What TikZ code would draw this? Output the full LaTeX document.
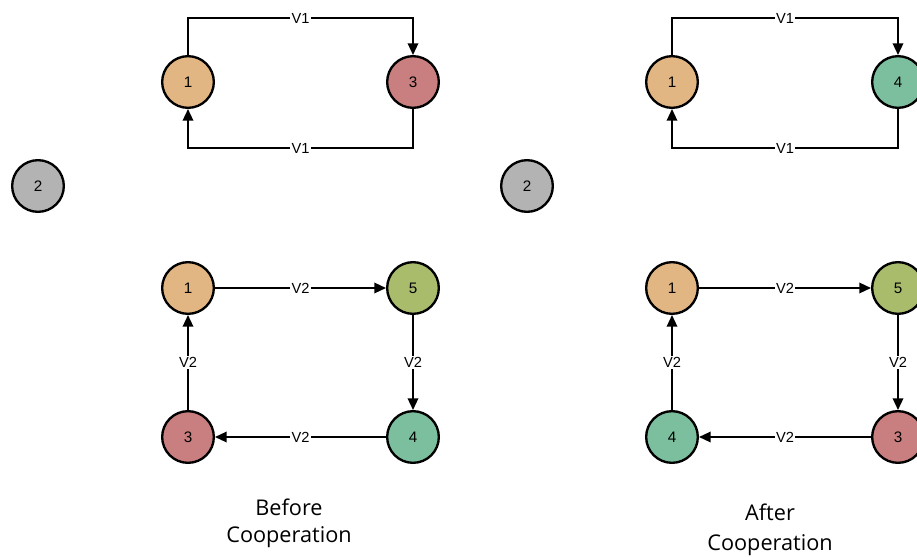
\documentclass[tikz,border=0pt]{standalone}
\usepackage{fontspec}
\setmainfont{Liberation Sans}
\newfontfamily\capfont{Open Sans}
\usetikzlibrary{positioning, arrows.meta}
\definecolor{tan}{HTML}{E2B683}
\definecolor{rose}{HTML}{C97F7F}
\definecolor{teal}{HTML}{7CBF9F}
\definecolor{olive}{HTML}{A9BC6C}
\definecolor{grey}{HTML}{B3B3B3}
\tikzset{
x=0.03cm, y=-0.03cm, % one unit is one pixel of the sketch
uav/.style={circle, draw=black, line width=2pt, minimum size=1.55cm, inner sep=0pt, font=\fontsize{13}{13}\selectfont}, % sets the properties for each vehicle
link/.style={-{Triangle[length=10pt,width=9pt]}, line width=1.5pt}, % directed edges
lbl/.style={fill=white, inner sep=1pt, font=\fontsize{12.5}{12.5}\selectfont}, % text on the edges
caption/.style={align=center, font=\capfont\fontsize{18.5}{23}\selectfont},
}
\begin{document}
\begin{tikzpicture}
    \useasboundingbox (0,0) rectangle (917,557);

    % before cooperation
    \node[uav, fill=tan] (b1) at (188,82) {1};
    \node[uav, fill=rose] (b3) at (413,82) {3};
    \node[uav, fill=grey] (b2) at (38,186) {2};
    \node[uav, fill=tan] (c1) at (188,288) {1};
    \node[uav, fill=olive] (c5) at (413,288) {5};
    \node[uav, fill=rose] (c3) at (188,437) {3};
    \node[uav, fill=teal] (c4) at (413,437) {4};
    \coordinate (b1t) at (188,18);
    \coordinate (b3t) at (413,18);
    \coordinate (b1b) at (188,148);
    \coordinate (b3b) at (413,148);

    \draw[link] (b1) -- (b1t) -- node[lbl]{V1} (b3t) -- (b3);
    \draw[link] (b3) -- (b3b) -- node[lbl]{V1} (b1b) -- (b1);
    \draw[link] (c1) -- node[lbl]{V2} (c5);
    \draw[link] (c5) -- node[lbl]{V2} (c4);
    \draw[link] (c4) -- node[lbl]{V2} (c3);
    \draw[link] (c3) -- node[lbl]{V2} (c1);

    \node[caption] (before) at (289,523) {Before\\Cooperation};

    % after cooperation
    \node[uav, fill=tan] (a1) at (672,82) {1};
    \node[uav, fill=teal] (a4) at (898,82) {4};
    \node[uav, fill=grey] (a2) at (527,186) {2};
    \node[uav, fill=tan] (d1) at (672,288) {1};
    \node[uav, fill=olive] (d5) at (898,288) {5};
    \node[uav, fill=teal] (d4) at (672,437) {4};
    \node[uav, fill=rose] (d3) at (898,437) {3};
    \coordinate (a1t) at (672,18);
    \coordinate (a4t) at (898,18);
    \coordinate (a1b) at (672,148);
    \coordinate (a4b) at (898,148);

    \draw[link] (a1) -- (a1t) -- node[lbl]{V1} (a4t) -- (a4);
    \draw[link] (a4) -- (a4b) -- node[lbl]{V1} (a1b) -- (a1);
    \draw[link] (d1) -- node[lbl]{V2} (d5);
    \draw[link] (d5) -- node[lbl]{V2} (d3);
    \draw[link] (d3) -- node[lbl]{V2} (d4);
    \draw[link] (d4) -- node[lbl]{V2} (d1);

    \node[caption, font=\capfont\fontsize{18.5}{26}\selectfont] (after) at (770,530) {After\\Cooperation};
\end{tikzpicture}
\end{document}
